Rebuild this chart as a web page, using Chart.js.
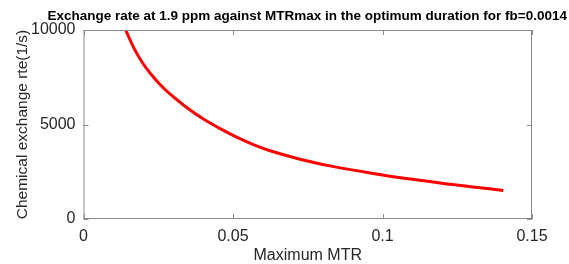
<!DOCTYPE html>
<html>
<head>
<meta charset="utf-8">
<script src="https://cdn.jsdelivr.net/npm/chart.js@4/dist/chart.umd.min.js"></script>
<style>
  html, body { margin: 0; padding: 0; background: #fff; }
  #wrap { width: 569px; height: 264px; }
</style>
</head>
<body>
<div id="wrap"><canvas id="chart"></canvas></div>
<script>
// values
const mtrMax = [0.0141, 0.0170, 0.020, 0.0228, 0.0256, 0.0289, 0.0345, 0.0401, 0.0457, 0.0512, 0.0568, 0.0624, 0.0718, 0.0824, 0.100, 0.1086, 0.1198, 0.131, 0.1404];
const kex = [10000, 9000, 8200, 7620, 7120, 6620, 5900, 5290, 4780, 4330, 3940, 3610, 3190, 2810, 2330, 2130, 1890, 1680, 1510];
const xTicks = [0, 0.05, 0.1, 0.15];
const yTicks = [0, 5000, 10000];

const axisGray = '#8a8a8a';
const labelGray = '#262626';
const family = 'Liberation Sans, Arial, sans-serif';
const tickFont = { family: family, size: 16 };

// matlab style box with inward tick marks
const boxPlugin = {
  id: 'box',
  afterDraw(chart) {
    const { ctx, chartArea: a, scales } = chart;
    ctx.save();
    ctx.strokeStyle = axisGray;
    ctx.lineWidth = 1;
    ctx.strokeRect(a.left + 0.5, a.top + 0.5, a.right - a.left - 1, a.bottom - a.top - 1);
    ctx.beginPath();
    xTicks.forEach(v => {
      const px = Math.round(scales.x.getPixelForValue(v)) + 0.5;
      ctx.moveTo(px, a.bottom); ctx.lineTo(px, a.bottom - 5);
      ctx.moveTo(px, a.top); ctx.lineTo(px, a.top + 5);
    });
    yTicks.forEach(v => {
      const py = Math.round(scales.y.getPixelForValue(v)) + 0.5;
      ctx.moveTo(a.left, py); ctx.lineTo(a.left + 5, py);
      ctx.moveTo(a.right, py); ctx.lineTo(a.right - 5, py);
    });
    ctx.stroke();
    ctx.restore();
  }
};

new Chart(document.getElementById('chart'), {
  type: 'line',
  data: {
    datasets: [{
      data: mtrMax.map((x, i) => ({ x: x, y: kex[i] })),
      borderColor: '#ff0000',
      borderWidth: 3,
      pointRadius: 0,
      tension: 0.4,
      fill: false
    }]
  },
  options: {
    responsive: true,
    maintainAspectRatio: false,
    animation: false,
    layout: { padding: { left: 0, right: 2, top: 0, bottom: 0 } },
    plugins: {
      legend: { display: false },
      tooltip: { enabled: false },
      title: {
        display: true,
        align: 'end',
        text: 'Exchange rate at 1.9 ppm against MTRmax in the optimum duration for fb=0.0014',
        color: '#000',
        font: { family: family, size: 13.5, weight: 'bold' },
        padding: { top: 8, bottom: 5.8 }
      }
    },
    scales: {
      x: {
        type: 'linear',
        min: 0,
        max: 0.15,
        afterBuildTicks: s => { s.ticks = xTicks.map(v => ({ value: v })); },
        afterFit: s => { s.height = 45; },
        grid: { display: true, drawOnChartArea: false, drawTicks: false },
        border: { display: false },
        ticks: { color: labelGray, font: tickFont, padding: 8, maxRotation: 0,
          callback: v => String(v) },
        title: { display: true, text: 'Maximum MTR', color: labelGray,
          font: { family: family, size: 16, lineHeight: 1 }, padding: 0 }
      },
      y: {
        type: 'linear',
        min: 0,
        max: 10000,
        afterBuildTicks: s => { s.ticks = yTicks.map(v => ({ value: v })); },
        afterFit: s => { s.width = 83.5; },
        grid: { display: true, drawOnChartArea: false, drawTicks: false },
        border: { display: false },
        ticks: { color: labelGray, font: tickFont, padding: 8, callback: v => String(v) },
        title: { display: true, text: 'Chemical exchange rte(1/s)', color: labelGray,
          font: { family: family, size: 15.5 }, padding: { top: 13, bottom: 0 } }
      },
      // empty right side strip so the plot box ends where the reference does
      yRight: {
        type: 'linear',
        position: 'right',
        display: true,
        afterFit: s => { s.width = 35; },
        grid: { display: false },
        border: { display: false },
        ticks: { display: false }
      }
    }
  },
  plugins: [boxPlugin]
});
</script>
</body>
</html>
